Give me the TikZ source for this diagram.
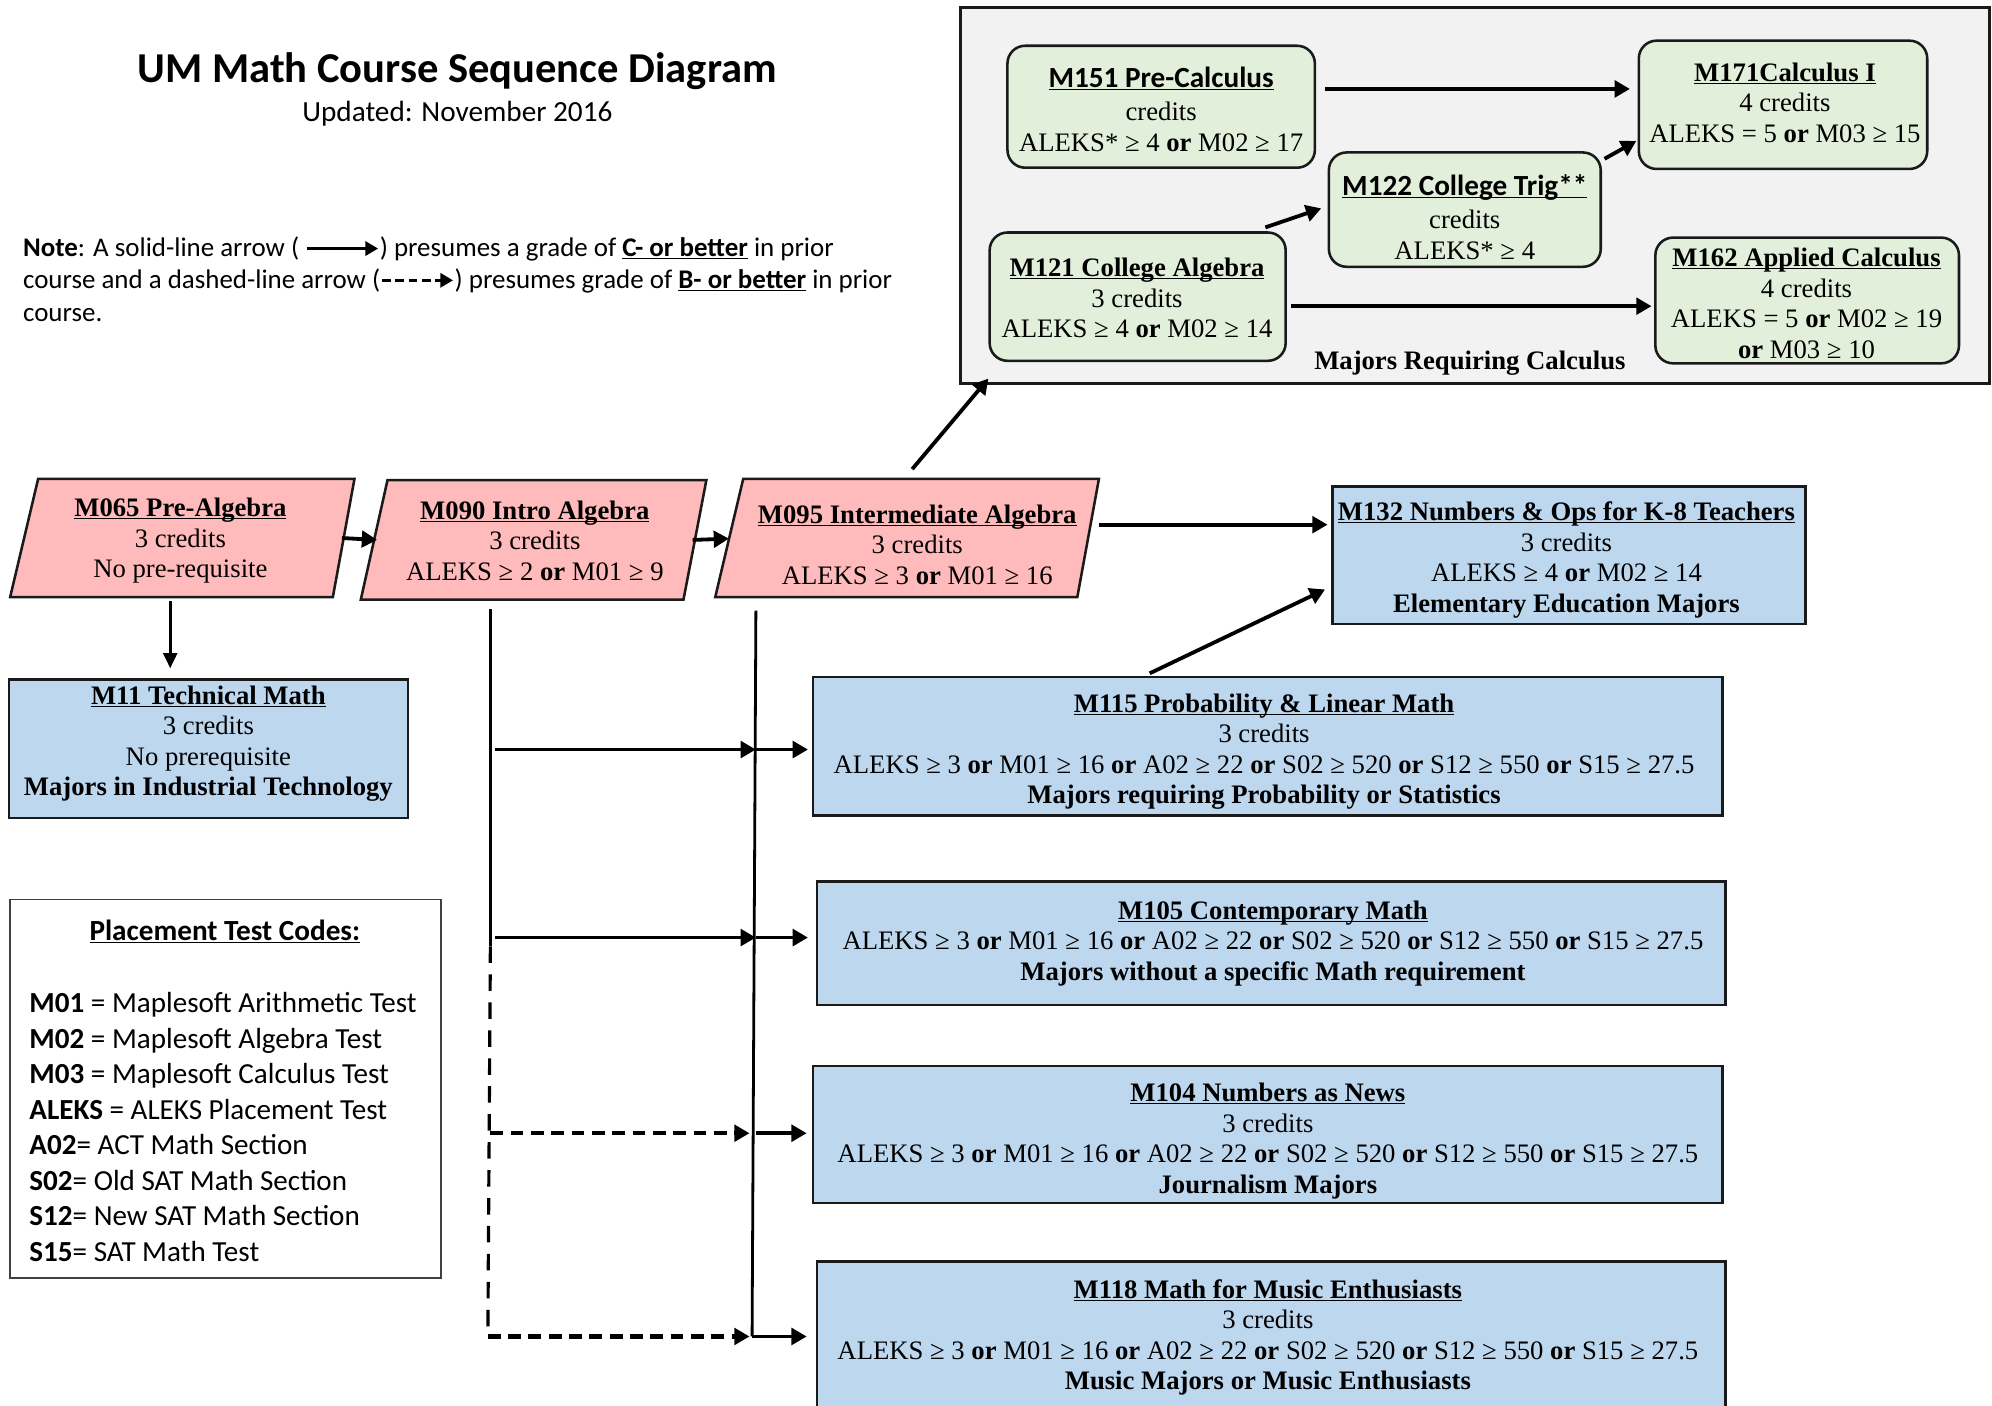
\documentclass[tikz,border=0pt]{standalone}
\usepackage{fontspec}
\setmainfont{Liberation Serif}
\newfontfamily\calfont{Carlito}
\usetikzlibrary{arrows.meta}
\definecolor{pinkf}{HTML}{FFBBBB}
\definecolor{bluef}{HTML}{BDD7EE}
\definecolor{greenf}{HTML}{E2EFDA}
\definecolor{grayf}{HTML}{F2F2F2}
\definecolor{edge}{HTML}{1A1A1A}
\newcommand{\uln}[1]{\underline{\smash{#1}}}
\newcommand{\sanstitle}[1]{{\calfont\fontsize{23}{24}\selectfont\bfseries\uln{#1}}}
\tikzset{
  txt/.style={font=\fontsize{21}{24}\selectfont, align=center, inner sep=0pt},
  pinknode/.style={inner sep=0pt, minimum height=93pt},
  pinkshape/.style={draw=edge, line width=2pt, fill=pinkf},
  bluebox/.style={inner sep=0pt, draw=edge, line width=2pt, fill=bluef},
  greenbox/.style={inner sep=0pt, draw=edge, line width=2pt, fill=greenf, rounded corners=14pt},
  arr/.style={line width=3pt, -{Triangle[length=12pt,width=13pt]}},
  thinarr/.style={line width=2pt, -{Triangle[length=12pt,width=11pt]}},
  vline/.style={line width=2.2pt},
  dashv/.style={line width=2.5pt, dash pattern=on 13pt off 9pt},
  dasharr/.style={line width=3.5pt, dash pattern=on 10pt off 6pt, -{Triangle[length=12pt,width=13pt]}},
  notefont/.style={font=\calfont\fontsize{21.2}{25}\selectfont, inner sep=0pt, anchor=base west},
  legfont/.style={font=\calfont\fontsize{22.9}{28}\selectfont, inner sep=0pt, anchor=base west}
}
\begin{document}
\begin{tikzpicture}[x=1pt,y=-1pt]
\fill[white] (0,0) rectangle (1568,1106);
\useasboundingbox (0,0) rectangle (1568,1106);

% ---------- title and note ----------
\node[font=\calfont\bfseries\fontsize{33.5}{40}\selectfont, anchor=base, inner sep=0pt] (title) at (360,65) {UM Math Course Sequence Diagram};
\node[font=\calfont\fontsize{23}{28}\selectfont, anchor=base, inner sep=0pt] (subtitle) at (360,96) {Updated: November 2016};

\node[notefont] (note1) at (18,202) {\textbf{Note}: A solid-line arrow ( \tikz[baseline=-0.3em]\draw[line width=2.6pt,-{Triangle[length=10pt,width=11pt]}] (0pt,0pt) -- (56pt,0pt);) presumes a grade of \textbf{\uln{C- or better}} in prior};
\node[notefont] (note2) at (18,227) {course and a dashed-line arrow (\tikz[baseline=-0.3em]\draw[line width=2.6pt,dash pattern=on 7pt off 3.5pt,-{Triangle[length=10pt,width=11pt]}] (0pt,0pt) -- (56pt,0pt);) presumes grade of \textbf{\uln{B- or better}} in prior};
\node[notefont] (note3) at (18,253) {course.};

% ---------- calculus box ----------
\node[draw=edge, line width=2pt, fill=grayf, minimum width=810pt, minimum height=296pt, inner sep=0pt] (calcbox) at (1161,154) {};

\node[greenbox, minimum width=242pt, minimum height=96pt] (m151) at (914,84) {};
\node[txt] (m151t) at (914,94)
  {\sanstitle{M151 Pre-Calculus}\\[2pt]credits\\ALEKS* ≥ 4 \textbf{or} M02 ≥ 17};
\node[greenbox, minimum width=227pt, minimum height=101pt] (m171) at (1403.5,82.5) {};
\node[txt] (m171t) at (1405,88)
  {\textbf{\uln{M171Calculus I}}\\4 credits\\ALEKS = 5 \textbf{or} M03 ≥ 15};
\node[greenbox, minimum width=214pt, minimum height=90pt] (m122) at (1153,165) {};
\node[txt] (m122t) at (1153,179)
  {\sanstitle{M122 College Trig**}\\[2pt]credits\\ALEKS* ≥ 4};
\node[greenbox, minimum width=233pt, minimum height=101pt] (m121) at (895.5,233.5) {};
\node[txt] (m121t) at (895,242)
  {\textbf{\uln{M121 College Algebra}}\\3 credits\\ALEKS ≥ 4 \textbf{or} M02 ≥ 14};
\node[greenbox, minimum width=239pt, minimum height=99pt] (m162) at (1422.5,236.5) {};
\node[txt] (m162t) at (1422,246)
  {\textbf{\uln{M162 Applied Calculus}}\\4 credits\\ALEKS = 5 \textbf{or} M02 ≥ 19\\\textbf{or} M03 ≥ 10};
\node[txt, font=\bfseries\fontsize{21}{24}\selectfont] (calclabel) at (1157,286) {Majors Requiring Calculus};

\draw[arr] ([shift={(7pt,14pt)}]m151.east) -- ([shift={(-6pt,12.5pt)}]m171.west);
\draw[arr] ([shift={(2pt,-6pt)}]m122.north east) -- ([shift={(-1pt,23pt)}]m171.south west);
\draw[arr] ([shift={(-17pt,3pt)}]m121.north east) -- ([shift={(-5pt,1pt)}]m122.west);
\draw[arr] ([shift={(3pt,-7.5pt)}]m121.east) -- ([shift={(-2pt,-4.5pt)}]m162.west);

% ---------- pink developmental courses ----------
\filldraw[pinkshape] (30,377) -- (279,377) -- (262,470) -- (8,470) -- cycle;
\filldraw[pinkshape] (305,378) -- (556,378) -- (538,472) -- (284,472) -- cycle;
\filldraw[pinkshape] (585,377) -- (865,377) -- (848,470) -- (563,470) -- cycle;

\node[pinknode, minimum width=271pt] (m065) at (143.5,423.5) {};
\node[txt] (m065t) at (142,433)
  {\textbf{\uln{M065 Pre-Algebra}}\\3 credits\\No pre-requisite};
\node[pinknode, minimum width=272pt] (m090) at (420,425) {};
\node[txt] (m090t) at (421,433)
  {\textbf{\uln{M090 Intro Algebra}}\\3 credits\\ALEKS ≥ 2 \textbf{or} M01 ≥ 9};
\node[pinknode, minimum width=286pt] (m095) at (722,424) {};
\node[txt] (m095t) at (722,436)
  {\textbf{\uln{M095 Intermediate Algebra}}\\3 credits\\ALEKS ≥ 3 \textbf{or} M01 ≥ 16};

% ---------- blue terminal courses ----------
\node[bluebox, minimum width=314pt, minimum height=109pt] (m11) at (164,589.5) {};
\node[txt] (m11t) at (164,592.5)
  {\textbf{\uln{M11 Technical Math}}\\3 credits\\No prerequisite\\\textbf{Majors in Industrial Technology}};
\node[bluebox, minimum width=372pt, minimum height=108pt] (m132) at (1235,437) {};
\node[txt] (m132t) at (1233,448)
  {\textbf{\uln{M132 Numbers \& Ops for K-8 Teachers}}\\3 credits\\ALEKS ≥ 4 \textbf{or} M02 ≥ 14\\\textbf{Elementary Education Majors}};
\node[bluebox, minimum width=716pt, minimum height=109pt] (m115) at (998,587.5) {};
\node[txt] (m115t) at (995,599)
  {\textbf{\uln{M115 Probability \& Linear Math}}\\3 credits\\ALEKS ≥ 3 \textbf{or} M01 ≥ 16 \textbf{or} A02 ≥ 22 \textbf{or} S02 ≥ 520 \textbf{or} S12 ≥ 550 \textbf{or} S15 ≥ 27.5\\\textbf{Majors requiring Probability or Statistics}};
\node[bluebox, minimum width=715pt, minimum height=97pt] (m105) at (1000.5,742.5) {};
\node[txt] (m105t) at (1002,750)
  {\textbf{\uln{M105 Contemporary Math}}\\ALEKS ≥ 3 \textbf{or} M01 ≥ 16 \textbf{or} A02 ≥ 22 \textbf{or} S02 ≥ 520 \textbf{or} S12 ≥ 550 \textbf{or} S15 ≥ 27.5\\\textbf{Majors without a specific Math requirement}};
\node[bluebox, minimum width=716pt, minimum height=108pt] (m104) at (998,893) {};
\node[txt] (m104t) at (998,905.5)
  {\textbf{\uln{M104 Numbers as News}}\\3 credits\\ALEKS ≥ 3 \textbf{or} M01 ≥ 16 \textbf{or} A02 ≥ 22 \textbf{or} S02 ≥ 520 \textbf{or} S12 ≥ 550 \textbf{or} S15 ≥ 27.5\\\textbf{Journalism Majors}};
\node[bluebox, minimum width=715pt, minimum height=126pt] (m118) at (1000.5,1056) {};
\node[txt] (m118t) at (998,1060)
  {\textbf{\uln{M118 Math for Music Enthusiasts}}\\3 credits\\ALEKS ≥ 3 \textbf{or} M01 ≥ 16 \textbf{or} A02 ≥ 22 \textbf{or} S02 ≥ 520 \textbf{or} S12 ≥ 550 \textbf{or} S15 ≥ 27.5\\\textbf{Music Majors or Music Enthusiasts}};

% ---------- connectors among pink / blue ----------
\draw[arr] ([xshift=-10pt]m065.east) -- ([xshift=13pt]m090.west);
\draw[arr] ([xshift=-11pt]m090.east) -- ([xshift=-5pt]m095.west);
\draw[thinarr] ([shift={(-9.5pt,-3pt)}]m065.south) -- ([shift={(-30pt,8pt)}]m11.north);
\draw[arr] ([yshift=11pt]m095.east) -- ([shift={(-3pt,24pt)}]m132.west);
\draw[arr] ([shift={(-4pt,8pt)}]m095.north) -- ([shift={(23pt,5pt)}]calcbox.south west);
\draw[arr] ([shift={(-93pt,2pt)}]m115.north) -- ([shift={(-5pt,-27pt)}]m132.west);

% trunk lines
\coordinate (v1top) at ([shift={(-34pt,-8pt)}]m090.south);
\coordinate (v1mid) at (386,745);
\coordinate (v1bot) at (384,1052);
\coordinate (v2top) at ([shift={(-127pt,-10pt)}]m095.south);
\coordinate (v2bot) at (592,1052);
\draw[vline] (v1top) -- (v1mid);
\draw[dashv] (v1mid) -- (v1bot);
\draw[vline] (v2top) -- (v2bot);

% branches from M090 trunk to M095 trunk
\coordinate (b1) at (390,590);  \coordinate (j1) at (595,590);
\coordinate (b2) at (390,738);  \coordinate (j2) at (595,738);
\coordinate (b3) at (386,892);  \coordinate (j3) at (590,892);  \coordinate (k3) at (595,892);
\coordinate (b4) at (384,1052); \coordinate (j4) at (590,1052); \coordinate (k4) at (592,1052);
\draw[arr] (b1) -- (j1);
\draw[arr] (b2) -- (j2);
\draw[dasharr] (b3) -- (j3);
\draw[dasharr] (b4) -- (j4);
\draw[arr] (j1) -- ([shift={(-3pt,-2.5pt)}]m115.west);
\draw[arr] (j2) -- ([shift={(-6pt,4.5pt)}]m105.west);
\draw[arr] (k3) -- ([shift={(-4pt,1pt)}]m104.west);
\draw[arr] (k4) -- ([shift={(-7pt,4pt)}]m118.west);

% ---------- legend ----------
\node[draw=black!75, line width=1.2pt, minimum width=339pt, minimum height=298pt, inner sep=0pt] (legend) at (177.5,857) {};
\node[font=\calfont\bfseries\fontsize{23}{28}\selectfont, inner sep=0pt] (legtitle) at (177,741) {\uln{Placement Test Codes:}};
\node[legfont] (leg1) at (23,797) {\textbf{M01} = Maplesoft Arithmetic Test};
\node[legfont] (leg2) at (23,825) {\textbf{M02} = Maplesoft Algebra Test};
\node[legfont] (leg3) at (23,853) {\textbf{M03} = Maplesoft Calculus Test};
\node[legfont] (leg4) at (23,881) {\textbf{ALEKS} = ALEKS Placement Test};
\node[legfont] (leg5) at (23,909) {\textbf{A02}= ACT Math Section};
\node[legfont] (leg6) at (23,937) {\textbf{S02}= Old SAT Math Section};
\node[legfont] (leg7) at (23,965) {\textbf{S12}= New SAT Math Section};
\node[legfont] (leg8) at (23,993) {\textbf{S15}= SAT Math Test};
\end{tikzpicture}
\end{document}
